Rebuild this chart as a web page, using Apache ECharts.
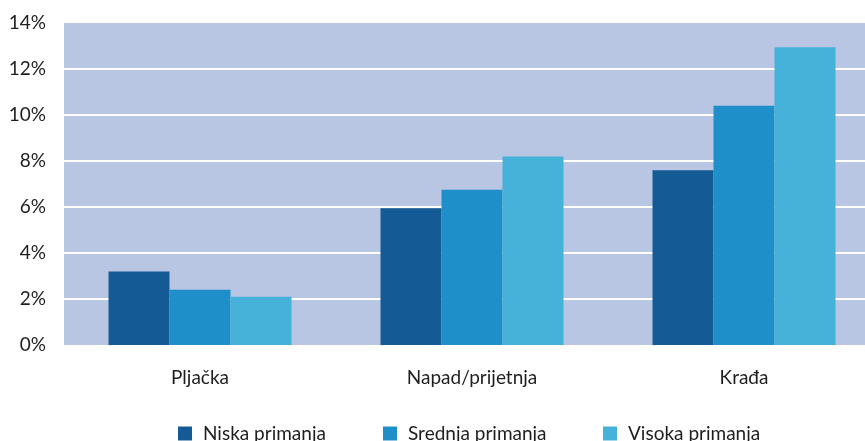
<!DOCTYPE html>
<html>
<head>
<meta charset="utf-8">
<script src="https://cdn.jsdelivr.net/npm/echarts@6/dist/echarts.min.js"></script>
<style>
  html, body { margin: 0; padding: 0; background: #ffffff; overflow: hidden; }
  /* plot area runs past the right edge of the window */
  #chart { width: 881px; height: 441px; }
</style>
</head>
<body>
<div id="chart"></div>
<script>
// Crime type categories
const categories = ['Pljačka', 'Napad/prijetnja', 'Krađa'];

// Share of victims (%) by income group
const niskaPrimanja = [3.2, 5.95, 7.6];
const srednjaPrimanja = [2.4, 6.75, 10.4];
const visokaPrimanja = [2.1, 8.2, 12.95];

const seriesNames = ['Niska primanja', 'Srednja primanja', 'Visoka primanja'];
const colors = ['#145A94', '#1E8FC8', '#46B2DA'];

const FONT = 'Lato, "Open Sans", sans-serif';
const TEXT = '#1e1e1e';

const chart = echarts.init(document.getElementById('chart'), null, { renderer: 'canvas' });

const values = [niskaPrimanja, srednjaPrimanja, visokaPrimanja];

// one legend entry per component so each sits at its own x
const legendLefts = [178, 383, 603];
const legends = seriesNames.map((name, i) => ({
  data: [name],
  left: legendLefts[i],
  top: 424,
  padding: 0,
  icon: 'rect',
  itemWidth: 14,
  itemHeight: 14,
  textStyle: {
    fontFamily: FONT,
    fontSize: 19,
    color: TEXT,
    padding: [0, 0, 0, 6]
  }
}));

chart.setOption({
  animation: false,
  color: colors,
  grid: {
    left: 64,
    top: 23,
    width: 816,
    height: 322,
    show: true,
    backgroundColor: '#B8C5E3',
    borderWidth: 0,
    containLabel: false
  },
  legend: legends,
  xAxis: {
    type: 'category',
    data: categories,
    axisLine: { show: false },
    axisTick: { show: false },
    axisLabel: {
      margin: 23,
      fontFamily: FONT,
      fontSize: 19,
      color: TEXT
    }
  },
  yAxis: {
    type: 'value',
    min: 0,
    max: 14,
    interval: 2,
    axisLine: { show: false },
    axisTick: { show: false },
    axisLabel: {
      formatter: '{value}%',
      margin: 18,
      fontFamily: FONT,
      fontSize: 19,
      color: TEXT
    },
    splitLine: {
      show: true,
      showMinLine: false,
      showMaxLine: false,
      lineStyle: { color: '#ffffff', width: 2 }
    }
  },
  series: seriesNames.map((name, i) => ({
    name: name,
    type: 'bar',
    data: values[i],
    barWidth: 61,
    barGap: '0%',
    itemStyle: { color: colors[i] }
  }))
});
</script>
</body>
</html>
